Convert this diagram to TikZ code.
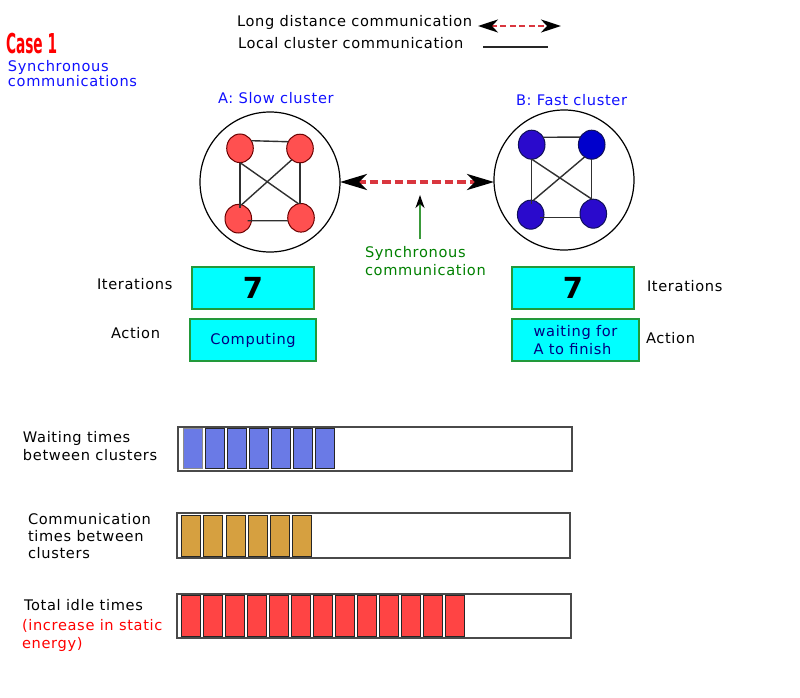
\documentclass[tikz,border=0pt]{standalone}
\usepackage{fontspec}
\usepackage{graphicx}
\setmainfont{DejaVu Sans}[LetterSpace=4.5]
\newfontfamily\plainfont{DejaVu Sans}
\usetikzlibrary{arrows.meta,shapes.geometric}
\definecolor{nred}{HTML}{FF5050}
\definecolor{nredb}{HTML}{6B0000}
\definecolor{nblue}{HTML}{2A0ACC}
\definecolor{nbluetwo}{HTML}{0000CC}
\definecolor{nblueb}{HTML}{10105A}
\definecolor{arrred}{HTML}{D9363E}
\definecolor{boxgreen}{HTML}{22993A}
\definecolor{boxcyan}{HTML}{00FFFF}
\definecolor{arrgreen}{HTML}{3A9A3A}
\definecolor{txtgreen}{HTML}{008000}
\definecolor{txtblue}{HTML}{1010FF}
\definecolor{navytxt}{HTML}{000080}
\definecolor{cellblue}{HTML}{6A7AE6}
\definecolor{cellbrown}{HTML}{D6A040}
\definecolor{cellred}{HTML}{FF4444}
\definecolor{edgegray}{HTML}{303030}
\definecolor{barline}{HTML}{4A4A4A}
\begin{document}
\begin{tikzpicture}[x=1pt,y=-1pt,
  every node/.style={inner sep=0pt,outer sep=0pt},
  lbl/.style={font=\fontsize{14.6}{17.7}\selectfont,anchor=base west,align=left},
  cluster/.style={circle,draw=black,line width=1.2pt,minimum size=140pt},
  anode/.style={ellipse,minimum width=26.6pt,minimum height=28.6pt,fill=nred,draw=nredb,line width=1pt},
  bnode/.style={ellipse,minimum width=26.6pt,minimum height=29pt,fill=nblue,draw=nblueb,line width=1pt},
  inedge/.style={draw=edgegray,line width=1.4pt},
  cbox/.style={rectangle,fill=boxcyan,draw=boxgreen,line width=1.5pt,minimum height=42pt,
    font=\fontsize{14.6}{17.7}\selectfont,text=navytxt},
  bigarrow/.style={draw=arrred,line width=4pt,dash pattern=on 8.5pt off 4pt,
    {Stealth[length=27pt,width=16pt,inset=8pt,color=black]}-{Stealth[length=27pt,width=16pt,inset=8pt,color=black]}},
  legarrow/.style={draw=arrred,line width=2.5pt,dash pattern=on 6pt off 3.5pt,
    {Stealth[length=20pt,width=13pt,inset=6pt,color=black]}-{Stealth[length=20pt,width=13pt,inset=6pt,color=black]}},
  bar/.style={draw=barline,line width=1.6pt,fill=white},
  cell/.style={draw=black!85,line width=1pt}
]
\useasboundingbox (0,0) rectangle (800,698);

% legend
\node[lbl] (legA) at (237,27) {Long distance communication};
\node[lbl] (legB) at (238,49) {Local cluster communication};
\coordinate (la1) at (478,26);
\coordinate (la2) at (561,26);
\draw[legarrow] (la1) -- (la2);
\coordinate (ll1) at (483,47);
\coordinate (ll2) at (548,47);
\draw[draw=black!85,line width=1.5pt] (ll1) -- (ll2);

% titles
\node[anchor=base west,text=red] (case) at (6,54)
  {\scalebox{0.5}[1]{\plainfont\bfseries\fontsize{27.4}{27}\selectfont Case 1}};
\node[lbl,text=txtblue,font=\fontsize{14.6}{14}\selectfont] (sync) at (8,86.5) {Synchronous\\communications};
\node[lbl,text=txtblue] (tA) at (218,103.3) {A: Slow cluster};
\node[lbl,text=txtblue] (tB) at (516,105.7) {B: Fast cluster};

% clusters
\node[cluster] (clA) at (270,182) {};
\node[cluster] (clB) at (564,180) {};

\node[anode] (a1) at (240,148.3) {};
\node[anode] (a2) at (300,148.5) {};
\node[anode] (a3) at (238.3,218.7) {};
\node[anode] (a4) at (301,217.8) {};
\draw[inedge] (a1.34) -- (a2.150);
\draw[inedge] (a1.south) -- ([yshift=-4pt]a1.south |- a3.north);
\draw[inedge] (a2.south) -- (a2.south |- a4.north);
\draw[inedge] ([xshift=-4pt,yshift=-2pt]a3.east) -- ([yshift=-3pt]a4.west);
\draw[inedge] (a1.south) -- (a4.100);
\draw[inedge] (a3.77) -- (a2.234);

\node[bnode] (b1) at (531.7,144.7) {};
\node[bnode,fill=nbluetwo] (b2) at (591.7,144.7) {};
\node[bnode] (b3) at (530.7,214.7) {};
\node[bnode] (b4) at (593.3,213.7) {};
\draw[inedge] (b1.33) -- (b2.146);
\draw[inedge] (b1.south) -- ([yshift=-4pt]b1.south |- b3.north);
\draw[inedge] (b2.south) -- (b2.south |- b4.north);
\draw[inedge] ([xshift=-4pt,yshift=-2.6pt]b3.east) -- ([yshift=-3.6pt]b4.west);
\draw[inedge] (b1.south) -- (b4.95);
\draw[inedge] (b3.80) -- (b2.240);

% long distance arrow
\draw[bigarrow] (clA.east) -- (clA.east -| clB.west);

% synchronous communication pointer
\coordinate (gs) at (420,239);
\coordinate (gt) at (420,195);
\draw[draw=arrgreen,line width=2pt,-{Stealth[length=13pt,width=9pt,inset=4pt,color=black]}] (gs) -- (gt);
\node[lbl,text=txtgreen] (synct) at (365,275) {Synchronous\\communication};

% boxes
\node[cbox,minimum width=122pt] (itA) at (253,288) {\plainfont\bfseries\fontsize{29}{29}\selectfont\color{black}7};
\node[cbox,minimum width=126pt] (acA) at (253,340) {\raisebox{-1.5pt}{Computing}};
\node[cbox,minimum width=122pt] (itB) at (573,288) {\plainfont\bfseries\fontsize{29}{29}\selectfont\color{black}7};
\node[cbox,minimum width=127pt,align=left] (acB) at (575.5,340) {waiting for\\A to finish};

\node[lbl] (itlA) at (97,289) {Iterations};
\node[lbl] (aclA) at (111,338) {Action};
\node[lbl] (itlB) at (647,291) {Iterations};
\node[lbl] (aclB) at (646,343) {Action};

% bars
\node[lbl] (w1) at (23,460) {Waiting times\\between clusters};
\node[lbl,font=\fontsize{14.6}{17}\selectfont] (w2) at (28,558.3) {Communication\\times between\\clusters};
\node[lbl] (w3) at (24,610) {Total idle times};
\node[lbl,text=red,font=\fontsize{14.6}{18.3}\selectfont] (w4) at (22,648.3) {(increase in static\\energy)};

\draw[bar] (178,427) rectangle (572,471);
\draw[cell,fill=cellblue,draw=black!45] (183,428) rectangle ++(19,40);
\foreach \x in {205.5,227,249,271,293,315}
  \draw[cell,fill=cellblue] (\x,428) rectangle ++(19,40);

\draw[bar] (177,513) rectangle (570,558);
\foreach \x in {181,203,226,248,270,292}
  \draw[cell,fill=cellbrown] (\x,515) rectangle ++(19,41);

\draw[bar] (177,594) rectangle (571,638);
\foreach \i in {0,...,12}
  \draw[cell,fill=cellred] (181+22.08*\i,595.5) rectangle ++(19,41);
\end{tikzpicture}
\end{document}
